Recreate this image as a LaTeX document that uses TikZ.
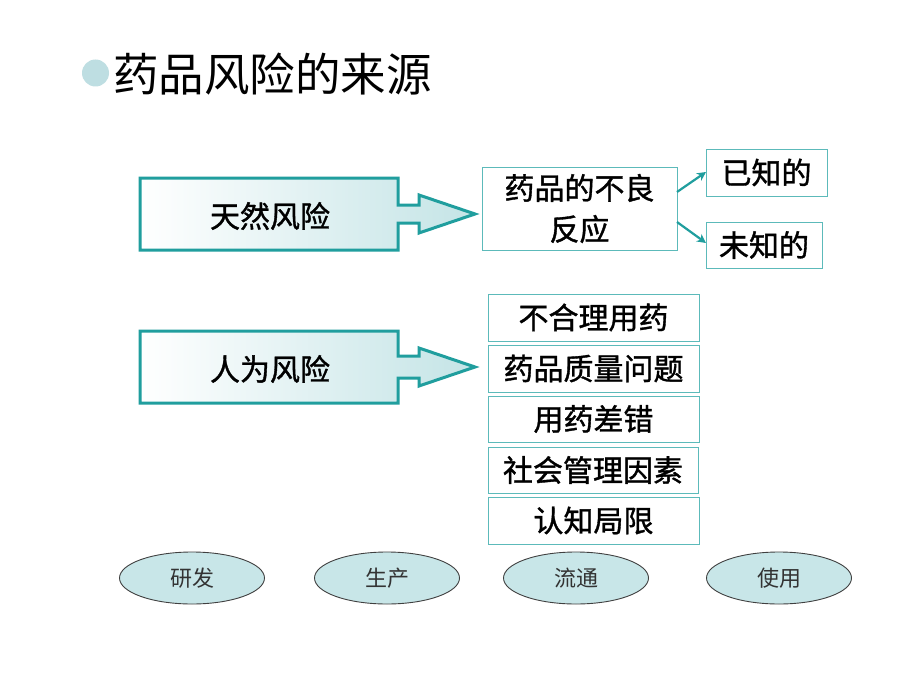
\documentclass[tikz,border=0pt]{standalone}
\usepackage{fontspec}
\setmainfont{Noto Sans CJK SC}
\newfontfamily\heavycjk{Noto Sans CJK SC}[FakeBold=1.2]
\usetikzlibrary{arrows.meta,shapes.geometric}
\definecolor{tealline}{RGB}{32,158,158}
\definecolor{boxline}{RGB}{92,186,186}
\definecolor{tealfill}{RGB}{196,228,230}
\definecolor{ellfill}{RGB}{200,230,232}
\definecolor{bulletc}{RGB}{190,222,226}
\tikzset{
  plainbox/.style={draw=boxline, line width=1pt, fill=white, inner sep=0pt, align=center, font=\heavycjk\fontsize{30}{41}\selectfont},
  bigarrow/.style={draw=tealline, line width=3pt, line join=miter, left color=white, right color=tealfill},
  stagebox/.style={ellipse, draw=black!75, line width=0.9pt, fill=ellfill, minimum width=145pt, minimum height=52pt, inner sep=0pt, font=\fontsize{22}{24}\selectfont, text=black!80},
  smallarrow/.style={draw=tealline, line width=2.2pt, -{Stealth[length=9pt,width=9pt]}},
  bigtext/.style={font=\heavycjk\fontsize{30}{32}\selectfont, inner sep=0pt}
}
\begin{document}
\begin{tikzpicture}[x=1pt,y=-1pt]
\useasboundingbox (0,0) rectangle (920,690);
\fill[white] (0,0) rectangle (920,690);
% title
\fill[bulletc] (95.5,73) circle (13.5);
\node[anchor=west, font=\fontsize{45.5}{48}\selectfont, inner sep=0pt] (title) at (113,74) {药品风险的来源};
% arrow 1
\path[bigarrow] (140,178) -- (398,178) -- (398,205) -- (419,205) -- (419,195) -- (475,214) -- (419,233) -- (419,223) -- (398,223) -- (398,250) -- (140,250) -- cycle;
\node[bigtext] (tianran) at (270,216) {天然风险};
% arrow 2
\path[bigarrow] (140,331) -- (398,331) -- (398,356) -- (419,356) -- (419,348) -- (475,367) -- (419,386) -- (419,378) -- (398,378) -- (398,403) -- (140,403) -- cycle;
\node[bigtext] (renwei) at (270,369) {人为风险};
% reaction box
\node[plainbox, minimum width=195pt, minimum height=83pt] (reaction) at (579.5,208.5) {药品的不良\\反应};
\node[plainbox, minimum width=121pt, minimum height=47pt] (known) at (766.5,172.5) {已知的};
\node[plainbox, minimum width=116pt, minimum height=46pt] (unknown) at (764,245) {未知的};
\coordinate (r1) at (677,192);
\coordinate (r2) at (677,222);
\coordinate (k1) at (706,172);
\coordinate (u1) at (706,243);
\draw[smallarrow] (r1) -- (k1);
\draw[smallarrow] (r2) -- (u1);
% stack
\node[plainbox, minimum width=211pt, minimum height=47pt] (s1) at (593.5,317.5) {不合理用药};
\node[plainbox, minimum width=211pt, minimum height=47pt] (s2) at (593.5,368.5) {药品质量问题};
\node[plainbox, minimum width=211pt, minimum height=46pt] (s3) at (593.5,419) {用药差错};
\node[plainbox, minimum width=210pt, minimum height=46pt] (s4) at (593,470) {社会管理因素};
\node[plainbox, minimum width=211pt, minimum height=47pt] (s5) at (593.5,520.5) {认知局限};
% stages
\node[stagebox] (e1) at (192,578) {研发};
\node[stagebox] (e2) at (387,578) {生产};
\node[stagebox] (e3) at (576,578) {流通};
\node[stagebox] (e4) at (779,578) {使用};
\end{tikzpicture}
\end{document}
